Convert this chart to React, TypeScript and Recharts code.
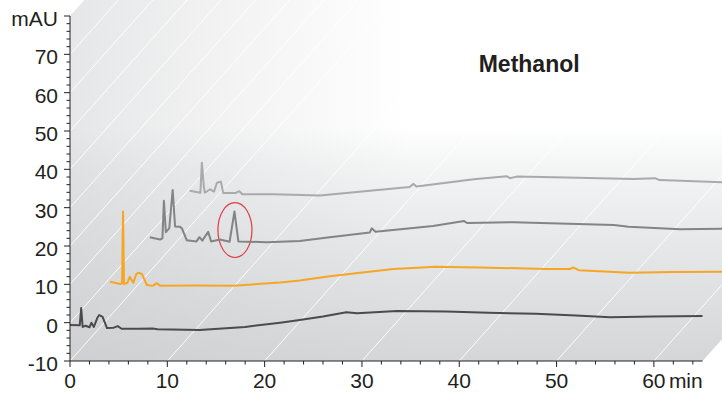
import React from 'react';
import { LineChart, Line, XAxis, YAxis, ReferenceArea, ReferenceLine } from 'recharts';

const X_MIN = 0;
const X_MAX = 67;
const X_AXIS_END = 65;
const Y_MIN = -10;
const Y_MAX = 80;

const xTicks = [0, 2, 4, 6, 8, 10, 12, 14, 16, 18, 20, 22, 24, 26, 28, 30, 32, 34, 36, 38, 40, 42, 44, 46, 48, 50, 52, 54, 56, 58, 60, 62, 64];
const yTicks = [-10, -8, -6, -4, -2, 0, 2, 4, 6, 8, 10, 12, 14, 16, 18, 20, 22, 24, 26, 28, 30, 32, 34, 36, 38, 40, 42, 44, 46, 48, 50, 52, 54, 56, 58, 60, 62, 64, 66, 68, 70, 72, 74, 76, 78, 80];
const xMajorTicks = [0, 10, 20, 30, 40, 50, 60];
const yMajorTicks = [-10, 0, 10, 20, 30, 40, 50, 60, 70, 80];
const yUnit = 'mAU';
const xUnit = 'min';
const title = 'Methanol';
const titlePos = { t: 42, v: 65.4 };
const highlight = { t1: 15.2, t2: 18.7, v1: 17.0, v2: 31.3 };

// Trace 1 (front, dark grey)
const darkTime = [0, 1.0, 1.15, 1.3, 1.6, 2.0, 2.2, 2.45, 2.8, 3.0, 3.35, 3.8, 4.5, 4.9, 5.3, 7, 8.5, 9, 13.3, 18, 21.6, 23.6, 26, 28.4, 29.5, 33.6, 38.7, 43, 47.9, 52, 55.5, 60, 65];
const darkMAU = [-0.6, -0.7, 3.8, -1.1, -0.8, -1.2, 0, -1.1, 1.2, 2.0, 1.5, -1.4, -1.3, -0.9, -1.6, -1.6, -1.5, -1.7, -1.9, -1.1, 0, 0.7, 1.6, 2.7, 2.45, 3.05, 2.9, 2.6, 2.3, 1.9, 1.4, 1.6, 1.75];

// Trace 2 (orange)
const orangeTime = [4.1, 5.2, 5.35, 5.45, 5.55, 5.9, 6.15, 6.5, 6.8, 7.0, 7.4, 7.9, 8.5, 8.9, 9.3, 12.7, 16.8, 21.6, 23.6, 26.7, 33.2, 36.2, 37.5, 42.1, 48.9, 51.4, 51.7, 52.3, 57.5, 62, 67];
const orangeMAU = [10.7, 10.1, 10.3, 29.0, 10.1, 10.4, 12.0, 10.4, 12.6, 13.0, 12.7, 9.8, 9.6, 10.3, 9.6, 9.7, 9.6, 10.5, 11.0, 12.1, 14.0, 14.4, 14.6, 14.4, 14.0, 14.0, 14.4, 13.7, 13.0, 13.2, 13.3];

// Trace 3 (mid grey)
const midTime = [8.2, 9.25, 9.5, 9.65, 9.85, 10.2, 10.55, 10.8, 11.3, 11.5, 12.0, 13.0, 13.3, 13.6, 14.2, 14.5, 15.4, 16.4, 16.9, 17.3, 20.2, 23.6, 26.7, 30.8, 31.0, 31.4, 37.3, 40.5, 40.8, 45.6, 55.9, 57.4, 62.7, 67];
const midMAU = [22.3, 21.7, 22.0, 31.8, 23.6, 24.6, 34.6, 25.1, 25.0, 24.6, 21.5, 21.2, 22.3, 21.4, 23.7, 21.2, 21.7, 21.1, 29.0, 21.2, 21.0, 21.3, 22.3, 23.5, 24.6, 23.7, 25.2, 26.5, 26.0, 26.2, 25.5, 25.0, 24.4, 24.5];

// Trace 4 (back, light grey)
const lightTime = [12.3, 13.4, 13.55, 13.75, 13.85, 14.4, 14.8, 15.1, 15.5, 15.75, 17.0, 17.4, 17.7, 20.9, 25.7, 30, 34.9, 35.3, 35.6, 41.5, 44.9, 45.2, 45.9, 51.0, 57.9, 60.1, 60.6, 67];
const lightMAU = [34.4, 33.9, 41.7, 35.5, 33.9, 34.8, 34.2, 36.5, 36.8, 33.8, 33.8, 34.3, 33.5, 33.5, 33.2, 34.2, 35.4, 36.2, 35.5, 37.4, 38.2, 37.7, 38.1, 37.9, 37.5, 37.7, 37.2, 36.6];

const toRows = (t: number[], v: number[]) => t.map((x, i) => ({ t: x, v: v[i] }));

const FONT = '"Liberation Sans", Arial, sans-serif';
const INK = '#231f20';
const SLOPE = 1.12;

const Panel = (p: any) => {
  const { x, y, width, height } = p;
  const L = x, T = y, R = x + width, B = y + height;
  const pxPerMin = width / (X_MAX - X_MIN);
  const pxPerU = height / (Y_MAX - Y_MIN);
  const xEnd = L + (X_AXIS_END - X_MIN) * pxPerMin;
  const pts = [
    [L, B], [L, T], [L + T / SLOPE, 0], [R, 0], [R, B - (R - xEnd) * SLOPE], [xEnd, B],
  ];
  const poly = pts.map((q) => q.join(',')).join(' ');
  const lines: any[] = [];
  yMajorTicks.filter((v) => v >= 0 && v < Y_MAX).forEach((v) => {
    const y0 = B - (v - Y_MIN) * pxPerU;
    lines.push(<line key={'y' + v} x1={L} y1={y0} x2={L + y0 / SLOPE} y2={0} />);
  });
  xMajorTicks.forEach((t) => {
    const x0 = L + (t - X_MIN) * pxPerMin;
    lines.push(<line key={'x' + t} x1={x0} y1={B} x2={x0 + B / SLOPE} y2={0} />);
  });
  const tx = L + (titlePos.t - X_MIN) * pxPerMin;
  const ty = B - (titlePos.v - Y_MIN) * pxPerU;
  return (
    <g>
      <defs>
        <linearGradient id="pv" x1="0" y1="0" x2="0" y2="1">
          <stop offset="0" stopColor="#ffffff" />
          <stop offset="0.35" stopColor="#ffffff" />
          <stop offset="0.47" stopColor="#f3f4f4" />
          <stop offset="0.72" stopColor="#e4e5e7" />
          <stop offset="1" stopColor="#d5d6d8" />
        </linearGradient>
        <linearGradient id="ph" x1="0" y1="0" x2="1" y2="0">
          <stop offset="0" stopColor="#c8c9cc" stopOpacity="0.45" />
          <stop offset="0.25" stopColor="#c8c9cc" stopOpacity="0.22" />
          <stop offset="0.52" stopColor="#c8c9cc" stopOpacity="0" />
        </linearGradient>
        <clipPath id="pclip">
          <polygon points={poly} />
        </clipPath>
      </defs>
      <polygon points={poly} fill="url(#pv)" />
      <polygon points={poly} fill="url(#ph)" />
      <g clipPath="url(#pclip)" stroke="#ffffff" strokeWidth={1} strokeOpacity={0.9}>
        {lines}
      </g>
      <text x={tx} y={ty} fontFamily={FONT} fontWeight="bold" fontSize={23} fill={INK}>{title}</text>
    </g>
  );
};

const Ellipse = (p: any) => {
  const { x, y, width, height } = p;
  return <ellipse cx={x + width / 2} cy={y + height / 2} rx={width / 2} ry={height / 2} fill="none" stroke="#e33a45" strokeWidth={1.2} />;
};

const YTick = (p: any) => {
  const { x, y, payload } = p;
  const v = payload.value;
  const major = yMajorTicks.includes(v);
  return (
    <g>
      <line x1={x} x2={x - (major ? 6 : 3.5)} y1={y} y2={y} stroke={INK} strokeWidth={1} />
      {major && (
        <text x={x - 12} y={y + 10} textAnchor="end" fontFamily={FONT} fontSize={21} fill={INK}>
          {v === Y_MAX ? yUnit : String(v)}
        </text>
      )}
    </g>
  );
};

const XTick = (p: any) => {
  const { x, y, payload } = p;
  const v = payload.value;
  const major = xMajorTicks.includes(v);
  const last = v === xMajorTicks[xMajorTicks.length - 1];
  return (
    <g>
      <line x1={x} x2={x} y1={y} y2={y + (major ? 6 : 3.5)} stroke={INK} strokeWidth={1} />
      {major && (
        <text x={x} y={y + 27} textAnchor="middle" fontFamily={FONT} fontSize={21} fill={INK}>
          {String(v)}
        </text>
      )}
      {last && (
        <text x={x + 15} y={y + 27} textAnchor="start" fontFamily={FONT} fontSize={21} fill={INK}>
          {xUnit}
        </text>
      )}
    </g>
  );
};

const lineProps = { strokeWidth: 2, dot: false, isAnimationActive: false, strokeLinejoin: 'round' as const };

export default function App() {
  return (
    <div style={{ position: 'absolute', left: 0, top: 0, width: 722, height: 393, background: '#ffffff' }}>
      <LineChart width={722} height={393} margin={{ top: 16, right: 0, bottom: 0, left: 0 }}>
        <ReferenceArea x1={X_MIN} x2={X_MAX} y1={Y_MIN} y2={Y_MAX} ifOverflow="visible" shape={Panel} />
        <XAxis
          dataKey="t"
          type="number"
          domain={[X_MIN, X_MAX]}
          ticks={xTicks}
          interval={0}
          tickSize={0}
          tickMargin={0}
          tick={XTick}
          axisLine={false}
          height={32}
          allowDataOverflow
        />
        <YAxis
          type="number"
          domain={[Y_MIN, Y_MAX]}
          ticks={yTicks}
          interval={0}
          tickSize={0}
          tickMargin={0}
          tick={YTick}
          axisLine={{ stroke: INK, strokeWidth: 1 }}
          width={70}
          allowDataOverflow
        />
        <ReferenceLine
          segment={[{ x: X_MIN, y: Y_MIN }, { x: X_AXIS_END, y: Y_MIN }]}
          stroke={INK}
          strokeWidth={1}
          ifOverflow="visible"
        />
        <Line data={toRows(lightTime, lightMAU)} dataKey="v" stroke="#a9aaac" {...lineProps} />
        <Line data={toRows(midTime, midMAU)} dataKey="v" stroke="#838486" {...lineProps} />
        <Line data={toRows(orangeTime, orangeMAU)} dataKey="v" stroke="#f6a623" {...lineProps} />
        <Line data={toRows(darkTime, darkMAU)} dataKey="v" stroke="#4b4b4d" {...lineProps} />
        <ReferenceArea x1={highlight.t1} x2={highlight.t2} y1={highlight.v1} y2={highlight.v2} ifOverflow="visible" shape={Ellipse} />
      </LineChart>
    </div>
  );
}
